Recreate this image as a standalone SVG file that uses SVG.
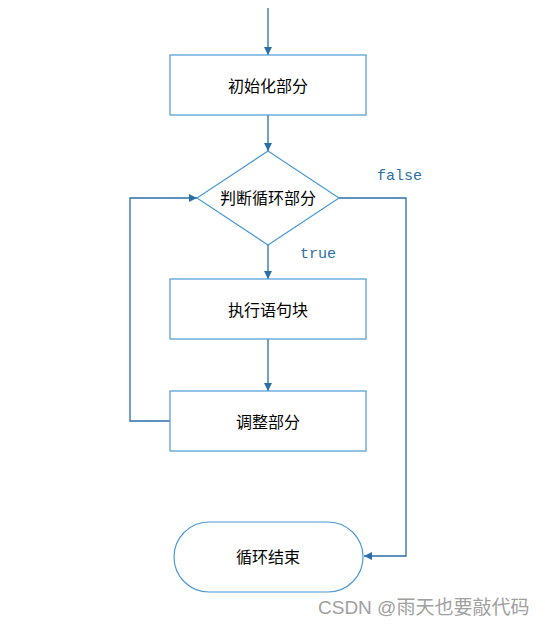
<svg xmlns="http://www.w3.org/2000/svg" width="545" height="625" viewBox="0 0 545 625">
<style>
.node{fill:#fff;stroke:#4a9ad6;stroke-width:1.2}
.edge{fill:none;stroke:#2a6fa8;stroke-width:1.3}
.t{font-family:"Noto Sans CJK SC",sans-serif;font-size:16px;fill:#000;text-anchor:middle;dominant-baseline:central}
.lbl{font-family:"Liberation Mono",monospace;font-size:15px;fill:#2a6fa8}
.wm{font-family:"Liberation Sans","Noto Sans CJK SC",sans-serif;font-size:19px;fill:#a0a0a0}
</style>
<defs>
<marker id="ah" viewBox="0 0 10 10" refX="10" refY="5" markerWidth="8" markerHeight="8" markerUnits="userSpaceOnUse" orient="auto">
<path d="M0,0 L10,5 L0,10 Z" fill="#2a6fa8"/>
</marker>
</defs>
<g id="connectors">
<path class="edge" d="M268,8 V55" marker-end="url(#ah)"/>
<path class="edge" d="M268,115 V151" marker-end="url(#ah)"/>
<path class="edge" d="M268,245 V279" marker-end="url(#ah)"/>
<path class="edge" d="M268,339 V391" marker-end="url(#ah)"/>
<path class="edge" d="M170,421 H130 V198 H197" marker-end="url(#ah)"/>
<path class="edge" d="M339,198 H406 V556 H364" marker-end="url(#ah)"/>
<text class="lbl" x="377" y="180">false</text>
<text class="lbl" x="300" y="258">true</text>
</g>
<g id="init"><rect class="node" x="170" y="55" width="196" height="60"/><text class="t" x="268" y="85">初始化部分</text></g>
<g id="cond"><polygon class="node" points="268,151 339,198 268,245 197,198"/><text class="t" x="268" y="197">判断循环部分</text></g>
<g id="body"><rect class="node" x="170" y="279" width="196" height="60"/><text class="t" x="268" y="309">执行语句块</text></g>
<g id="update"><rect class="node" x="170" y="391" width="196" height="60"/><text class="t" x="268" y="421">调整部分</text></g>
<g id="end"><rect class="node" x="174" y="522" width="189" height="70" rx="35" ry="35"/><text class="t" x="268" y="556">循环结束</text></g>
<text class="wm" x="318" y="614">CSDN @雨天也要敲代码</text>
</svg>
